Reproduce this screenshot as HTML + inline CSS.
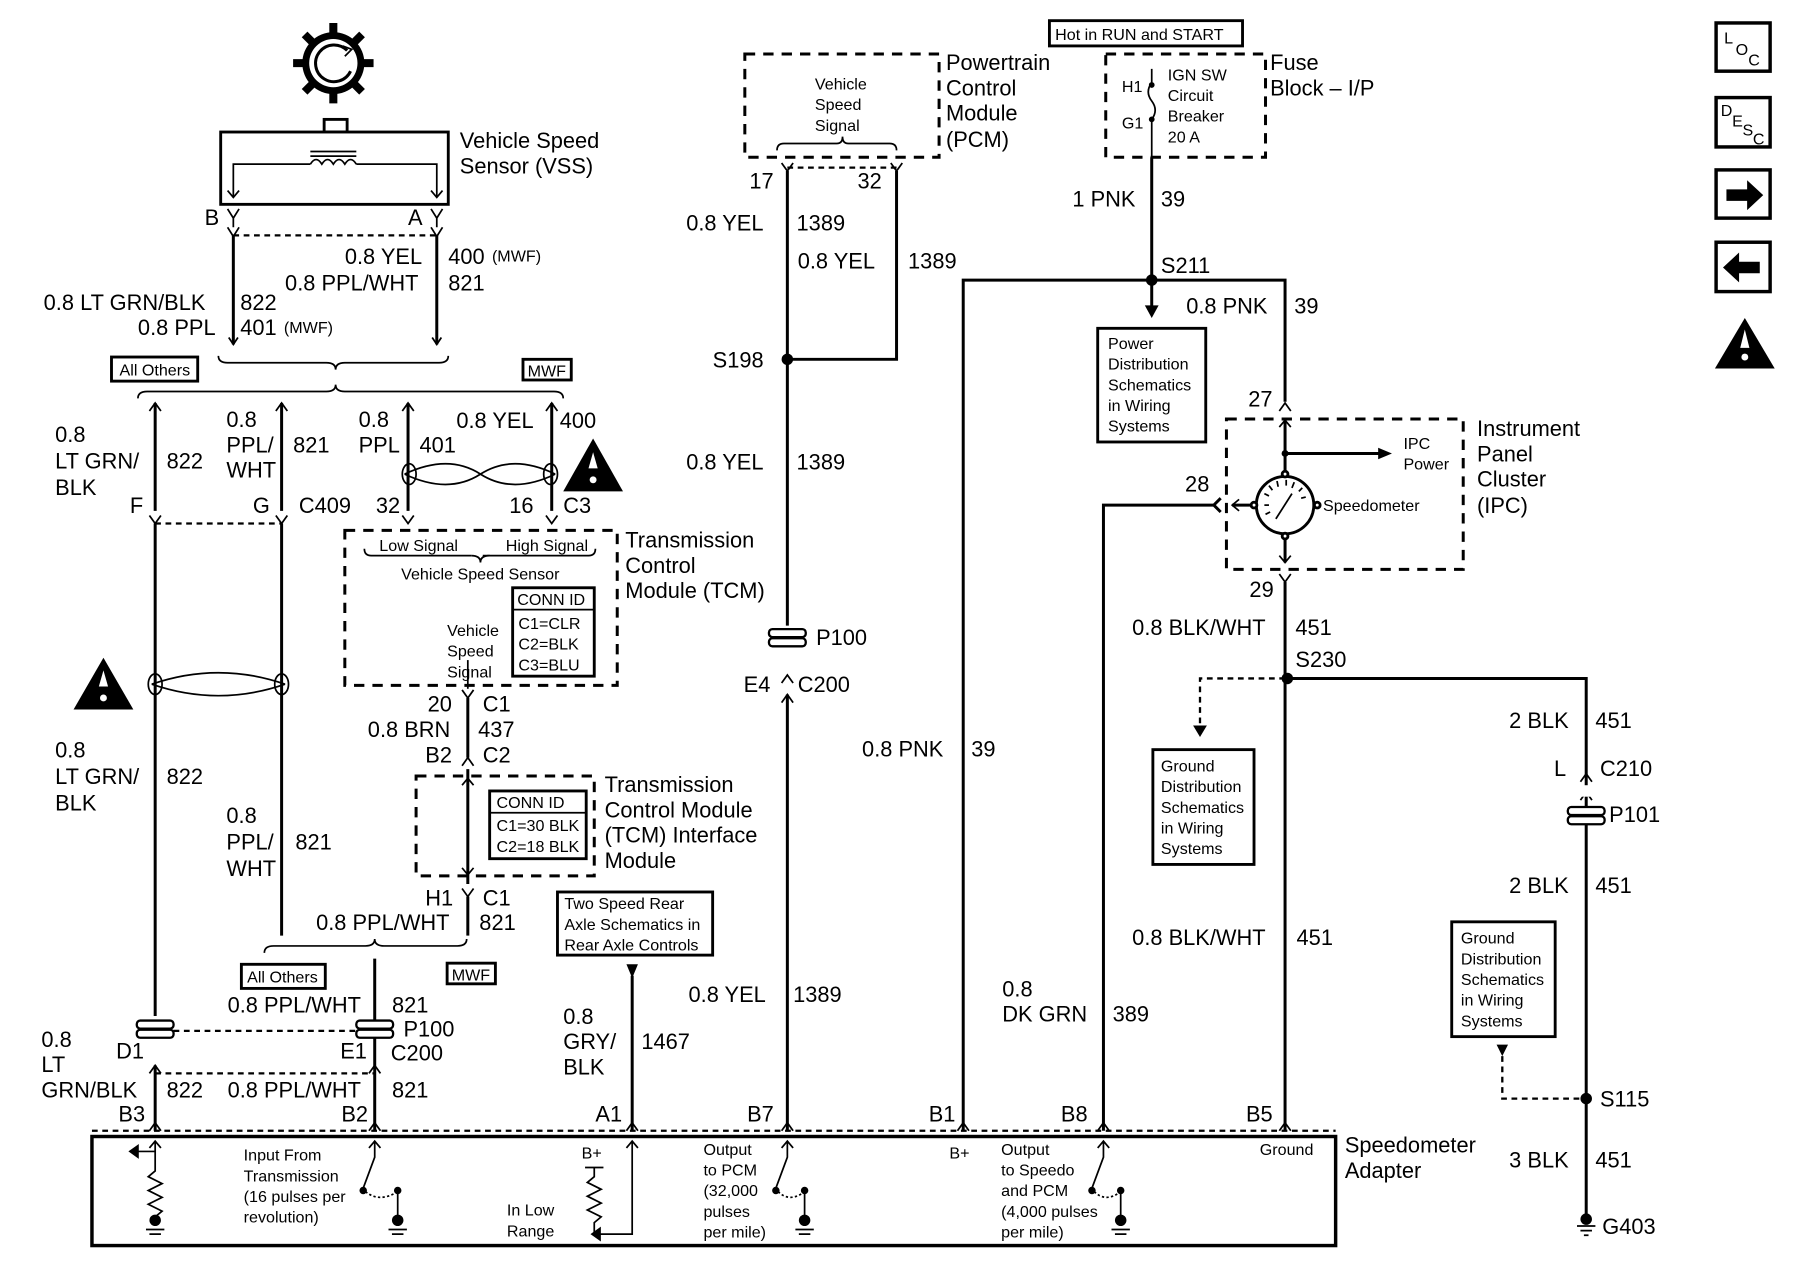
<!DOCTYPE html>
<html><head><meta charset="utf-8"><style>
html,body{margin:0;padding:0;background:#fff;width:1800px;height:1280px;overflow:hidden}
svg{display:block}
text{font-family:"Liberation Sans",Arial,sans-serif;fill:#000}
.l{font-size:19px}
.s{font-size:14px}
.w{stroke:#000;stroke-width:2.6;fill:none}
.t{stroke:#000;stroke-width:1.5;fill:none}
.d{stroke:#000;stroke-width:2;fill:none;stroke-dasharray:5,4}
.bd{stroke:#000;stroke-width:2.6;fill:none;stroke-dasharray:9,7}
.b{stroke:#000;stroke-width:2.5;fill:#fff}
</style></head><body>
<svg width="1800" height="1280" viewBox="0 0 1566 1115" preserveAspectRatio="none" xmlns="http://www.w3.org/2000/svg">
<!-- VSS gear -->
<circle cx="290" cy="55" r="27" fill="#000"/>
<g stroke="#000" stroke-width="7">
<line x1="290" y1="20" x2="290" y2="90"/><line x1="255" y1="55" x2="325" y2="55"/>
<line x1="265" y1="30" x2="315" y2="80"/><line x1="315" y1="30" x2="265" y2="80"/>
</g>
<circle cx="290" cy="55" r="21" fill="#fff"/>
<path d="M302 44 A16 16 0 1 0 305 62" class="w"/>
<path d="M298 40 l8 3 -6 6" class="t"/>
<rect x="282" y="104" width="20" height="11" class="b" stroke-width="1.5"/>
<rect x="192" y="115" width="198" height="63" class="b" stroke-width="3"/>
<path d="M203 172 V143 H270 M310 143 H380 V172" class="t"/>
<path d="M270 143 q5 -8 10 0 q5 -8 10 0 q5 -8 10 0 q5 -8 10 0" class="t"/>
<line x1="270" y1="136" x2="310" y2="136" class="t"/><line x1="270" y1="132" x2="310" y2="132" class="t"/>
<path d="M198 166 l5 6 5 -6 M375 166 l5 6 5 -6" class="t"/>
<text x="400" y="129" class="l">Vehicle Speed</text><text x="400" y="151" class="l">Sensor (VSS)</text>
<text x="178" y="196" class="l">B</text><text x="355" y="196" class="l">A</text>
<path d="M198 182 l5 8 5 -8 M203 190 V198 M198 198 l5 8 5 -8 M375 182 l5 8 5 -8 M380 190 V198 M375 198 l5 8 5 -8" class="t"/>
<line x1="203" y1="205" x2="380" y2="205" class="d"/>
<line x1="203" y1="205" x2="203" y2="300" class="w"/><line x1="380" y1="205" x2="380" y2="300" class="w"/>
<path d="M376 294 l4 6 4 -6 M199 294 l4 6 4 -6" class="t"/>
<text x="300" y="230" class="l">0.8 YEL</text><text x="390" y="230" class="l">400</text><text x="428" y="228" class="s">(MWF)</text>
<text x="248" y="253" class="l">0.8 PPL/WHT</text><text x="390" y="253" class="l">821</text>
<text x="38" y="270" class="l">0.8 LT GRN/BLK</text><text x="209" y="270" class="l">822</text>
<text x="120" y="292" class="l">0.8 PPL</text><text x="209" y="292" class="l">401</text><text x="247" y="290" class="s">(MWF)</text>
<!-- braces -->
<path d="M190 310 q0 6 8 6 H284 q8 0 8 6 q0 -6 8 -6 H382 q8 0 8 -6" class="t"/>
<rect x="97" y="311" width="75" height="21" class="b" stroke-width="2"/><text x="104" y="327" class="s">All Others</text>
<rect x="455" y="313" width="42" height="18" class="b" stroke-width="2"/><text x="459" y="328" class="s">MWF</text>
<path d="M120 347 q0 -6 8 -6 H284 q8 0 8 -6 q0 6 8 6 H482 q8 0 8 6" class="t"/>
<!-- left wires -->
<path d="M130 358 l5 -7 5 7 M240 358 l5 -7 5 7 M350 358 l5 -7 5 7 M475 358 l5 -7 5 7" class="t"/>
<line x1="135" y1="351" x2="135" y2="445" class="w"/><line x1="245" y1="351" x2="245" y2="445" class="w"/>
<line x1="355" y1="351" x2="355" y2="445" class="w"/><line x1="480" y1="351" x2="480" y2="445" class="w"/>
<path d="M352 413 Q390 395 418 413 Q446 431 483 413 M352 413 Q390 431 418 413 Q446 395 483 413" class="t" stroke-width="2"/>
<ellipse cx="356" cy="413" rx="6" ry="9" class="t"/><ellipse cx="479" cy="413" rx="6" ry="9" class="t"/>
<text x="48" y="385" class="l">0.8</text><text x="48" y="408" class="l">LT GRN/</text><text x="48" y="431" class="l">BLK</text>
<text x="145" y="408" class="l">822</text>
<text x="197" y="372" class="l">0.8</text><text x="197" y="394" class="l">PPL/</text><text x="197" y="416" class="l">WHT</text>
<text x="255" y="394" class="l">821</text>
<text x="312" y="372" class="l">0.8</text><text x="312" y="394" class="l">PPL</text><text x="365" y="394" class="l">401</text>
<text x="397" y="373" class="l">0.8 YEL</text><text x="487" y="373" class="l">400</text>
<path d="M490 428 L516 382 L542 428 Z" fill="#000"/><path d="M516 394 l-4 14 h8 z" fill="#fff"/><circle cx="516" cy="418" r="3" fill="#fff"/>
<text x="113" y="447" class="l">F</text><text x="220" y="447" class="l">G</text><text x="260" y="447" class="l">C409</text>
<text x="327" y="447" class="l">32</text><text x="443" y="447" class="l">16</text><text x="490" y="447" class="l">C3</text>
<path d="M130 449 l5 7 5 -7 M240 449 l5 7 5 -7 M350 449 l5 7 5 -7 M475 449 l5 7 5 -7" class="t"/>
<line x1="135" y1="456" x2="245" y2="456" class="d"/>
<!-- TCM box -->
<rect x="300" y="462" width="237" height="135" class="bd"/>
<path d="M317 478 q0 6 6 6 H410 M420 484 H512 q6 0 6 -6" class="t"/><path d="M410 484 q8 0 8 6 q0 -6 8 -6" class="t"/>
<text x="330" y="480" class="s">Low Signal</text><text x="440" y="480" class="s">High Signal</text>
<text x="349" y="505" class="s">Vehicle Speed Sensor</text>
<rect x="446" y="512" width="71" height="77" class="b" stroke-width="2"/>
<text x="450" y="527" class="s">CONN ID</text><line x1="446" y1="531" x2="517" y2="531" class="t"/>
<text x="451" y="548" class="s">C1=CLR</text><text x="451" y="566" class="s">C2=BLK</text><text x="451" y="584" class="s">C3=BLU</text>
<text x="389" y="554" class="s">Vehicle</text><text x="389" y="572" class="s">Speed</text><text x="389" y="590" class="s">Signal</text>
<line x1="407" y1="575" x2="407" y2="600" class="t"/>
<text x="544" y="477" class="l">Transmission</text><text x="544" y="499" class="l">Control</text><text x="544" y="521" class="l">Module (TCM)</text>
<!-- twist left -->
<path d="M132 596 Q190 576 248 596 M132 596 Q190 616 248 596" class="t" stroke-width="2"/>
<ellipse cx="135" cy="596" rx="6" ry="9" class="t"/><ellipse cx="245" cy="596" rx="6" ry="9" class="t"/>
<line x1="135" y1="456" x2="135" y2="885" class="w"/><line x1="245" y1="456" x2="245" y2="815" class="w"/>
<path d="M64 618 L90 573 L116 618 Z" fill="#000"/><path d="M90 584 l-4 14 h8 z" fill="#fff"/><circle cx="90" cy="608" r="3" fill="#fff"/>
<text x="48" y="660" class="l">0.8</text><text x="48" y="683" class="l">LT GRN/</text><text x="48" y="706" class="l">BLK</text><text x="145" y="683" class="l">822</text>
<text x="197" y="717" class="l">0.8</text><text x="197" y="740" class="l">PPL/</text><text x="197" y="763" class="l">WHT</text><text x="257" y="740" class="l">821</text>
<!-- TCM to interface -->
<text x="372" y="620" class="l">20</text><text x="420" y="620" class="l">C1</text>
<text x="320" y="642" class="l">0.8 BRN</text><text x="416" y="642" class="l">437</text>
<text x="370" y="664" class="l">B2</text><text x="420" y="664" class="l">C2</text>
<path d="M402 601 l5 7 5 -7 M407 608 V660 M402 667 l5 -7 5 7" class="t"/><line x1="407" y1="608" x2="407" y2="660" class="w"/>
<rect x="362" y="676" width="155" height="87" class="bd"/>
<line x1="407" y1="670" x2="407" y2="770" class="w"/>
<path d="M402 684 l5 -6 5 6 M402 756 l5 6 5 -6" class="t"/>
<rect x="426" y="689" width="84" height="59" class="b" stroke-width="2"/>
<text x="432" y="704" class="s">CONN ID</text><line x1="426" y1="708" x2="510" y2="708" class="t"/>
<text x="432" y="724" class="s">C1=30 BLK</text><text x="432" y="742" class="s">C2=18 BLK</text>
<text x="526" y="690" class="l">Transmission</text><text x="526" y="712" class="l">Control Module</text><text x="526" y="734" class="l">(TCM) Interface</text><text x="526" y="756" class="l">Module</text>
<text x="370" y="789" class="l">H1</text><text x="420" y="789" class="l">C1</text>
<path d="M402 774 l5 7 5 -7" class="t"/><line x1="407" y1="781" x2="407" y2="815" class="w"/>
<text x="275" y="810" class="l">0.8 PPL/WHT</text><text x="417" y="810" class="l">821</text>
<path d="M230 830 q0 -6 8 -6 H318 q8 0 8 -6 q0 6 8 6 H398 q8 0 8 -6" class="t"/>
<rect x="210" y="840" width="73" height="21" class="b" stroke-width="2"/><text x="215" y="856" class="s">All Others</text>
<rect x="389" y="839" width="42" height="18" class="b" stroke-width="2"/><text x="393" y="854" class="s">MWF</text>
<line x1="326" y1="835" x2="326" y2="985" class="w"/>
<text x="198" y="882" class="l">0.8 PPL/WHT</text><text x="341" y="882" class="l">821</text>
<!-- P100 C200 left -->
<g fill="#fff" stroke="#000" stroke-width="2">
<rect x="119" y="889" width="32" height="7" rx="3"/><rect x="119" y="897" width="32" height="7" rx="3"/>
<rect x="310" y="889" width="32" height="7" rx="3"/><rect x="310" y="897" width="32" height="7" rx="3"/>
</g>
<line x1="151" y1="898" x2="310" y2="898" class="d"/>
<text x="351" y="903" class="l">P100</text>
<text x="36" y="912" class="l">0.8</text><text x="36" y="934" class="l">LT</text><text x="36" y="956" class="l">GRN/BLK</text>
<text x="101" y="922" class="l">D1</text><text x="296" y="922" class="l">E1</text><text x="340" y="924" class="l">C200</text>
<path d="M130 935 l5 -7 5 7 M321 935 l5 -7 5 7" class="t"/>
<line x1="135" y1="928" x2="135" y2="985" class="w"/>
<line x1="135" y1="935" x2="326" y2="935" class="d"/>
<text x="145" y="956" class="l">822</text><text x="198" y="956" class="l">0.8 PPL/WHT</text><text x="341" y="956" class="l">821</text>
<text x="103" y="977" class="l">B3</text><text x="297" y="977" class="l">B2</text>
<!-- two speed box -->
<rect x="485" y="777" width="135" height="55" class="b" stroke-width="2"/>
<text x="491" y="792" class="s">Two Speed Rear</text><text x="491" y="810" class="s">Axle Schematics in</text><text x="491" y="828" class="s">Rear Axle Controls</text>
<path d="M545 840 h10 l-5 12 z" fill="#000"/><line x1="550" y1="850" x2="550" y2="985" class="w"/>
<text x="490" y="892" class="l">0.8</text><text x="490" y="914" class="l">GRY/</text><text x="490" y="936" class="l">BLK</text><text x="558" y="914" class="l">1467</text>
<text x="518" y="977" class="l">A1</text>
<!-- PCM -->
<rect x="648" y="47" width="169" height="90" class="bd"/>
<text x="709" y="78" class="s">Vehicle</text><text x="709" y="96" class="s">Speed</text><text x="709" y="114" class="s">Signal</text>
<path d="M676 131 q0 -6 6 -6 H728 q5 0 5 -6 q0 6 5 6 H774 q6 0 6 6" class="t"/>
<text x="823" y="61" class="l">Powertrain</text><text x="823" y="83" class="l">Control</text><text x="823" y="105" class="l">Module</text><text x="823" y="128" class="l">(PCM)</text>
<text x="652" y="164" class="l">17</text><text x="746" y="164" class="l">32</text>
<path d="M680 142 l5 7 5 -7 M775 142 l5 7 5 -7" class="t"/>
<line x1="685" y1="146" x2="780" y2="146" class="d"/>
<line x1="685" y1="149" x2="685" y2="545" class="w"/>
<path d="M780 149 V313 H685" class="w"/><circle cx="685" cy="313" r="5" fill="#000"/>
<text x="597" y="201" class="l">0.8 YEL</text><text x="693" y="201" class="l">1389</text>
<text x="694" y="234" class="l">0.8 YEL</text><text x="790" y="234" class="l">1389</text>
<text x="620" y="320" class="l">S198</text>
<text x="597" y="409" class="l">0.8 YEL</text><text x="693" y="409" class="l">1389</text>
<g fill="#fff" stroke="#000" stroke-width="2"><rect x="669" y="548" width="32" height="7" rx="3"/><rect x="669" y="556" width="32" height="7" rx="3"/></g>
<text x="710" y="562" class="l">P100</text>
<text x="647" y="603" class="l">E4</text><text x="694" y="603" class="l">C200</text>
<path d="M680 595 l5 -7 5 7 M680 612 l5 -7 5 7" class="t"/>
<line x1="685" y1="605" x2="685" y2="985" class="w"/>
<text x="599" y="873" class="l">0.8 YEL</text><text x="690" y="873" class="l">1389</text>
<text x="650" y="977" class="l">B7</text>
<!-- Fuse block -->
<rect x="913" y="18" width="168" height="22" class="b" stroke-width="2"/><text x="918" y="35" class="s">Hot in RUN and START</text>
<rect x="962" y="47" width="139" height="90" class="bd"/>
<text x="976" y="80" class="s">H1</text><text x="976" y="112" class="s">G1</text>
<path d="M1002 60 V72 M1002 72 q-6 8 0 16 q6 8 0 16 M1002 104 V137" class="t"/>
<circle cx="1002" cy="74" r="2.5" fill="#000"/><circle cx="1002" cy="104" r="2.5" fill="#000"/>
<text x="1016" y="70" class="s">IGN SW</text><text x="1016" y="88" class="s">Circuit</text><text x="1016" y="106" class="s">Breaker</text><text x="1016" y="124" class="s">20 A</text>
<text x="1105" y="61" class="l">Fuse</text><text x="1105" y="83" class="l">Block – I/P</text>
<line x1="1002" y1="137" x2="1002" y2="268" class="w"/>
<path d="M996 266 h12 l-6 11 z" fill="#000"/>
<text x="933" y="180" class="l">1 PNK</text><text x="1010" y="180" class="l">39</text>
<path d="M838 985 V244 H1118 V350" class="w"/><circle cx="1002" cy="244" r="5" fill="#000"/>
<text x="1010" y="238" class="l">S211</text>
<text x="1032" y="273" class="l">0.8 PNK</text><text x="1126" y="273" class="l">39</text>
<rect x="955" y="286" width="94" height="99" class="b" stroke-width="2"/>
<text x="964" y="304" class="s">Power</text><text x="964" y="322" class="s">Distribution</text><text x="964" y="340" class="s">Schematics</text><text x="964" y="358" class="s">in Wiring</text><text x="964" y="376" class="s">Systems</text>
<text x="750" y="659" class="l">0.8 PNK</text><text x="845" y="659" class="l">39</text>
<text x="808" y="977" class="l">B1</text>
<!-- IPC -->
<text x="1086" y="354" class="l">27</text>
<path d="M1113 358 l5 -7 5 7" class="t"/>
<rect x="1067" y="365" width="206" height="131" class="bd"/>
<path d="M1113 372 l5 -6 5 6" class="t"/>
<line x1="1118" y1="366" x2="1118" y2="411" class="w" stroke-width="2"/>
<circle cx="1118" cy="395" r="3" fill="#000"/>
<line x1="1118" y1="395" x2="1200" y2="395" class="w" stroke-width="2"/><path d="M1199 390 l12 5 -12 5 z" fill="#000"/>
<text x="1221" y="391" class="s">IPC</text><text x="1221" y="409" class="s">Power</text>
<circle cx="1118" cy="440" r="25" class="b" stroke-width="2.5"/>
<g class="t"><line x1="1100" y1="430" x2="1104" y2="432"/><line x1="1104" y1="423" x2="1107" y2="427"/><line x1="1111" y1="419" x2="1112" y2="424"/><line x1="1119" y1="418" x2="1119" y2="423"/><line x1="1126" y1="420" x2="1124" y2="425"/><line x1="1133" y1="425" x2="1130" y2="428"/><line x1="1136" y1="433" x2="1132" y2="434"/><line x1="1100" y1="440" x2="1104" y2="440"/><line x1="1101" y1="448" x2="1105" y2="446"/><line x1="1110" y1="452" x2="1124" y2="430"/></g>
<circle cx="1118" cy="413" r="2.5" class="b" stroke-width="1.2"/><circle cx="1118" cy="467" r="2.5" class="b" stroke-width="1.2"/>
<circle cx="1091" cy="440" r="2.5" class="b" stroke-width="1.2"/><circle cx="1146" cy="440" r="2.5" class="b" stroke-width="1.2"/>
<text x="1151" y="445" class="s">Speedometer</text>
<line x1="1072" y1="440" x2="1089" y2="440" class="w" stroke-width="2"/><path d="M1078 435 l-6 5 6 5" class="t"/>
<path d="M960 985 V440 H1056 M1062 434 l-6 6 6 6" class="w"/>
<text x="1031" y="428" class="l">28</text>
<line x1="1118" y1="469" x2="1118" y2="490" class="w" stroke-width="2"/><path d="M1113 484 l5 6 5 -6" class="t"/>
<text x="1285" y="380" class="l">Instrument</text><text x="1285" y="402" class="l">Panel</text><text x="1285" y="424" class="l">Cluster</text><text x="1285" y="447" class="l">(IPC)</text>
<text x="1087" y="520" class="l">29</text>
<path d="M1113 500 l5 7 5 -7" class="t"/>
<line x1="1118" y1="507" x2="1118" y2="985" class="w"/>
<text x="985" y="553" class="l">0.8 BLK/WHT</text><text x="1127" y="553" class="l">451</text>
<text x="1127" y="581" class="l">S230</text>
<path d="M1118 591 H1380 V1060" class="w"/><circle cx="1120" cy="591" r="5" fill="#000"/>
<path d="M1118 591 H1044 V632" class="d"/><path d="M1038 632 h12 l-6 10 z" fill="#000"/>
<rect x="1003" y="653" width="88" height="100" class="b" stroke-width="2"/>
<text x="1010" y="672" class="s">Ground</text><text x="1010" y="690" class="s">Distribution</text><text x="1010" y="708" class="s">Schematics</text><text x="1010" y="726" class="s">in Wiring</text><text x="1010" y="744" class="s">Systems</text>
<text x="985" y="823" class="l">0.8 BLK/WHT</text><text x="1128" y="823" class="l">451</text>
<text x="872" y="868" class="l">0.8</text><text x="872" y="890" class="l">DK GRN</text><text x="968" y="890" class="l">389</text>
<text x="923" y="977" class="l">B8</text><text x="1084" y="977" class="l">B5</text>
<text x="1313" y="634" class="l">2 BLK</text><text x="1388" y="634" class="l">451</text>
<text x="1352" y="676" class="l">L</text><text x="1392" y="676" class="l">C210</text>
<path d="M1375 681 l5 -7 5 7 M1375 697 l5 -7 5 7" class="t"/>
<rect x="1373" y="684" width="14" height="10" fill="#fff"/>
<g fill="#fff" stroke="#000" stroke-width="2"><rect x="1364" y="703" width="32" height="7" rx="3"/><rect x="1364" y="711" width="32" height="7" rx="3"/></g>
<text x="1400" y="716" class="l">P101</text>
<text x="1313" y="778" class="l">2 BLK</text><text x="1388" y="778" class="l">451</text>
<rect x="1263" y="803" width="90" height="100" class="b" stroke-width="2"/>
<text x="1271" y="822" class="s">Ground</text><text x="1271" y="840" class="s">Distribution</text><text x="1271" y="858" class="s">Schematics</text><text x="1271" y="876" class="s">in Wiring</text><text x="1271" y="894" class="s">Systems</text>
<path d="M1302 910 h10 l-5 10 z" fill="#000"/>
<path d="M1307 920 V957 H1380" class="d"/><circle cx="1380" cy="957" r="5" fill="#000"/>
<text x="1392" y="964" class="l">S115</text>
<text x="1313" y="1017" class="l">3 BLK</text><text x="1388" y="1017" class="l">451</text>
<circle cx="1380" cy="1062" r="5" fill="#000"/><path d="M1372 1068 h16 M1375 1072 h10 M1378 1076 h4" class="t"/>
<text x="1394" y="1075" class="l">G403</text>
<!-- Speedometer adapter -->
<line x1="80" y1="985" x2="1162" y2="985" class="d"/>
<path d="M130 985 l5 -7 5 7 M321 985 l5 -7 5 7 M545 985 l5 -7 5 7 M680 985 l5 -7 5 7 M833 985 l5 -7 5 7 M955 985 l5 -7 5 7 M1113 985 l5 -7 5 7" class="t"/>
<rect x="80" y="990" width="1082" height="95" fill="none" stroke="#000" stroke-width="3"/>
<text x="1170" y="1004" class="l">Speedometer</text><text x="1170" y="1026" class="l">Adapter</text>
<g class="t" stroke-width="2">
<path d="M130 1000 l5 -6 5 6 M135 994 V1020 l-6 5 12 6 -12 6 12 6 -12 6 12 6 -6 5 V1060"/>
<path d="M135 1003 H118"/><path d="M120 998 l-7 5 7 5z" fill="#000"/>
<path d="M321 1000 l5 -6 5 6 M326 994 V1008 L316 1035"/><circle cx="316" cy="1037" r="2.5" fill="#000"/><circle cx="346" cy="1037" r="2.5" fill="#000"/>
<path d="M318 1038 q12 10 28 0" stroke-dasharray="2,2"/><path d="M346 1037 V1060"/>
<path d="M545 1000 l5 -6 5 6 M550 994 V1075 H520"/><path d="M522 1070 l-7 5 7 5z" fill="#000"/>
<path d="M509 1017 h16 M517 1017 V1025 l-6 5 12 6 -12 6 12 6 -12 6 12 6 -6 5 V1075"/>
<path d="M680 1000 l5 -6 5 6 M685 994 V1008 L675 1035"/><circle cx="675" cy="1037" r="2.5" fill="#000"/><circle cx="700" cy="1037" r="2.5" fill="#000"/>
<path d="M677 1038 q10 10 23 0" stroke-dasharray="2,2"/><path d="M700 1037 V1060"/>
<path d="M955 1000 l5 -6 5 6 M960 994 V1008 L950 1035"/><circle cx="950" cy="1037" r="2.5" fill="#000"/><circle cx="975" cy="1037" r="2.5" fill="#000"/>
<path d="M952 1038 q10 10 23 0" stroke-dasharray="2,2"/><path d="M975 1037 V1060"/>
</g>
<g fill="#000"><circle cx="135" cy="1063" r="5"/><circle cx="346" cy="1063" r="5"/><circle cx="700" cy="1063" r="5"/><circle cx="975" cy="1063" r="5"/></g>
<g class="t"><path d="M127 1071 h16 M130 1075 h10 M338 1071 h16 M341 1075 h10 M692 1071 h16 M695 1075 h10 M967 1071 h16 M970 1075 h10"/></g>
<text x="212" y="1011" class="s">Input From</text><text x="212" y="1029" class="s">Transmission</text><text x="212" y="1047" class="s">(16 pulses per</text><text x="212" y="1065" class="s">revolution)</text>
<text x="506" y="1009" class="s">B+</text>
<text x="441" y="1059" class="s">In Low</text><text x="441" y="1077" class="s">Range</text>
<text x="612" y="1006" class="s">Output</text><text x="612" y="1024" class="s">to PCM</text><text x="612" y="1042" class="s">(32,000</text><text x="612" y="1060" class="s">pulses</text><text x="612" y="1078" class="s">per mile)</text>
<text x="826" y="1009" class="s">B+</text>
<text x="871" y="1006" class="s">Output</text><text x="871" y="1024" class="s">to Speedo</text><text x="871" y="1042" class="s">and PCM</text><text x="871" y="1060" class="s">(4,000 pulses</text><text x="871" y="1078" class="s">per mile)</text>
<text x="1096" y="1006" class="s">Ground</text>
<!-- right icons -->
<rect x="1493" y="20" width="47" height="42" fill="none" stroke="#000" stroke-width="3"/>
<text x="1500" y="38" class="s">L</text><text x="1510" y="48" class="s">O</text><text x="1521" y="57" class="s">C</text>
<rect x="1493" y="85" width="47" height="43" fill="none" stroke="#000" stroke-width="3"/>
<text x="1497" y="101" class="s">D</text><text x="1507" y="110" class="s">E</text><text x="1516" y="118" class="s">S</text><text x="1525" y="126" class="s">C</text>
<rect x="1493" y="148" width="47" height="42" fill="none" stroke="#000" stroke-width="3"/>
<path d="M1502 165 h18 v-8 l14 13 -14 13 v-8 h-18z" fill="#000"/>
<rect x="1493" y="211" width="47" height="43" fill="none" stroke="#000" stroke-width="3"/>
<path d="M1531 228 h-18 v-8 l-14 13 14 13 v-8 h18z" fill="#000"/>
<path d="M1492 321 L1518 277 L1544 321 Z" fill="#000"/><path d="M1518 287 l-4 16 h8 z" fill="#fff"/><circle cx="1518" cy="311" r="3" fill="#fff"/>
</svg>
</body></html>
